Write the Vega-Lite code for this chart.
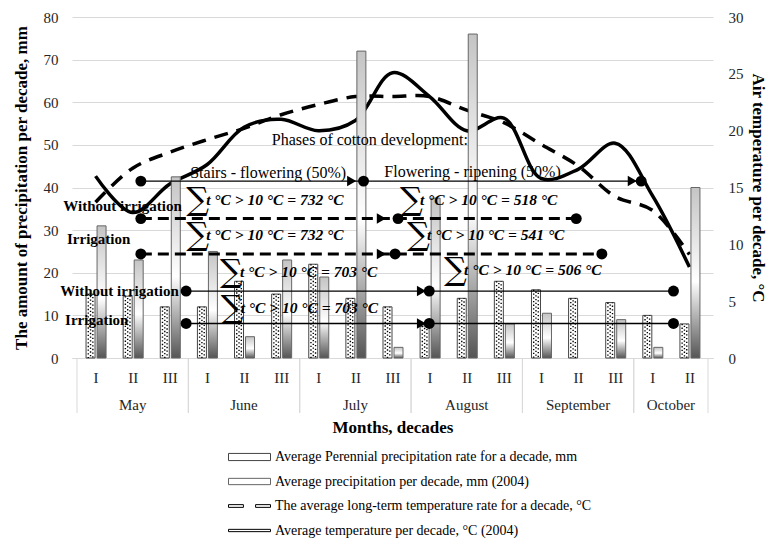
{
  "$schema": "https://vega.github.io/schema/vega-lite/v6.json",
  "width": 641,
  "height": 341,
  "autosize": {"type": "none"},
  "padding": {"left": 72, "top": 17, "right": 54, "bottom": 187},
  "background": "white",
  "config": {
    "view": {"stroke": null},
    "font": "Liberation Serif",
    "axis": {"labelFont": "Liberation Serif", "titleFont": "Liberation Serif", "labelColor": "#262626", "titleColor": "black"},
    "legend": {
      "orient": "none", "legendX": 156, "legendY": 432, "direction": "vertical",
      "labelFont": "Liberation Serif", "labelFontSize": 14, "labelColor": "black", "labelOffset": 4, "labelLimit": 600,
      "symbolSize": 1764, "clipHeight": 16, "rowPadding": 8.5, "padding": 0,
      "symbolType": {"expr": "test(/Perennial/, datum.value) ? 'M-1,-0.17H1V0.17H-1Z' : test(/precipitation/, datum.value) ? 'M-1,-0.15H1V0.15H-1Z' : test(/long-term/, datum.value) ? 'M-1,-0.065H-0.29V0.065H-1Z M0.29,-0.065H1V0.065H0.29Z' : 'M-1,-0.055H1V0.055H-1Z'"},
      "symbolFillColor": {"expr": "test(/Perennial/, datum.value) ? '#c4c4c4' : (test(/precipitation/, datum.value) ? '#e8e8e8' : 'black')"},
      "symbolStrokeColor": {"expr": "test(/precipitation/, datum.value) ? '#555555' : 'black'"},
      "symbolStrokeWidth": 1,
      "symbolOpacity": 1
    }
  },
  "datasets": {
    "decades": [
      {"i": 1, "month": "May", "decade": "I", "perennial": 15, "p2004": 31, "tLong": 13.7, "t2004": 16.0},
      {"i": 2, "month": "May", "decade": "II", "perennial": 14.5, "p2004": 23, "tLong": 16.7, "t2004": 12.8},
      {"i": 3, "month": "May", "decade": "III", "perennial": 12, "p2004": 42.5, "tLong": 18.1, "t2004": 15.3},
      {"i": 4, "month": "June", "decade": "I", "perennial": 12, "p2004": 25, "tLong": 19.2, "t2004": 17.0},
      {"i": 5, "month": "June", "decade": "II", "perennial": 18, "p2004": 5, "tLong": 20.2, "t2004": 20.3},
      {"i": 6, "month": "June", "decade": "III", "perennial": 15, "p2004": 23, "tLong": 21.4, "t2004": 21.0},
      {"i": 7, "month": "July", "decade": "I", "perennial": 22, "p2004": 19, "tLong": 22.3, "t2004": 20.0},
      {"i": 8, "month": "July", "decade": "II", "perennial": 14, "p2004": 72, "tLong": 23.0, "t2004": 20.9},
      {"i": 9, "month": "July", "decade": "III", "perennial": 12, "p2004": 2.5, "tLong": 23.0, "t2004": 25.1},
      {"i": 10, "month": "August", "decade": "I", "perennial": 7.5, "p2004": 37.5, "tLong": 23.0, "t2004": 23.0},
      {"i": 11, "month": "August", "decade": "II", "perennial": 14, "p2004": 76, "tLong": 21.8, "t2004": 20.0},
      {"i": 12, "month": "August", "decade": "III", "perennial": 18, "p2004": 8, "tLong": 20.7, "t2004": 21.1},
      {"i": 13, "month": "September", "decade": "I", "perennial": 16, "p2004": 10.5, "tLong": 18.8, "t2004": 15.8},
      {"i": 14, "month": "September", "decade": "II", "perennial": 14, "p2004": null, "tLong": 16.9, "t2004": 16.6},
      {"i": 15, "month": "September", "decade": "III", "perennial": 13, "p2004": 9, "tLong": 14.2, "t2004": 18.9},
      {"i": 16, "month": "October", "decade": "I", "perennial": 10, "p2004": 2.5, "tLong": 13.0, "t2004": 14.3},
      {"i": 17, "month": "October", "decade": "II", "perennial": 8, "p2004": 40, "tLong": 9.1, "t2004": 8.0}
    ],
    "months": [
      {"month": "May", "first": 0.5, "last": 3.5, "mid": 2},
      {"month": "June", "first": 3.5, "last": 6.5, "mid": 5},
      {"month": "July", "first": 6.5, "last": 9.5, "mid": 8},
      {"month": "August", "first": 9.5, "last": 12.5, "mid": 11},
      {"month": "September", "first": 12.5, "last": 15.5, "mid": 14},
      {"month": "October", "first": 15.5, "last": 17.5, "mid": 16.5}
    ],
    "tracks": [
      {"basis": "phases", "y": 41.5, "start": 2.22, "mid": 8.22, "end": 15.7},
      {"basis": "long-term", "y": 32.7, "start": 2.22, "mid": 9.15, "end": 13.95},
      {"basis": "long-term", "y": 24.4, "start": 2.22, "mid": 9.07, "end": 14.64},
      {"basis": "2004", "y": 15.7, "start": 3.44, "mid": 9.99, "end": 16.57},
      {"basis": "2004", "y": 8.1, "start": 3.44, "mid": 9.99, "end": 16.57}
    ],
    "arrows": [
      {"y": 41.5, "x": 7.9},
      {"y": 41.5, "x": 15.46},
      {"y": 32.7, "x": 8.7},
      {"y": 24.4, "x": 8.7},
      {"y": 15.7, "x": 9.78},
      {"y": 8.1, "x": 9.78}
    ],
    "sums": [
      {"x": 3.44, "y": 37.07, "label": "t °C  > 10 °C = 732 °C"},
      {"x": 3.44, "y": 28.74, "label": "t °C  > 10 °C = 732 °C"},
      {"x": 9.2, "y": 37.07, "label": "t °C  > 10 °C = 518 °C"},
      {"x": 9.39, "y": 28.86, "label": "t °C  > 10 °C = 541 °C"},
      {"x": 4.35, "y": 20.06, "label": "t °C  > 10 °C = 703 °C"},
      {"x": 4.37, "y": 11.73, "label": "t °C  > 10 °C = 703 °C"},
      {"x": 10.39, "y": 20.76, "label": "t °C  > 10 °C = 506 °C"}
    ],
    "notes": [
      {"x": 5.75, "y": 51.14, "text": "Phases of cotton development:"},
      {"x": 3.55, "y": 43.5, "text": "Stairs - flowering (50%)"},
      {"x": 8.78, "y": 43.6, "text": "Flowering - ripening (50%)"}
    ],
    "regimes": [
      {"x": 0.13, "y": 35.66, "text": "Without irrigation"},
      {"x": 0.23, "y": 27.92, "text": "Irrigation"},
      {"x": 0.05, "y": 15.72, "text": "Without irrigation"},
      {"x": 0.18, "y": 8.91, "text": "Irrigation"}
    ]
  },
  "layer": [
    {
      "layer": [
        {
          "data": {"name": "decades"},
          "mark": {"type": "line", "interpolate": "catmull-rom"},
          "encoding": {
            "x": {"field": "i", "type": "quantitative"},
            "y": {"field": "t2004", "type": "quantitative"},
            "strokeWidth": {"value": 3.5},
            "stroke": {"datum": "Average temperature per decade, °C (2004)", "legend": {"title": null}}
          }
        },
        {
          "data": {"name": "decades"},
          "mark": {"type": "line", "interpolate": "catmull-rom", "strokeDash": [14, 9], "strokeWidth": 3.5},
          "encoding": {
            "x": {"field": "i", "type": "quantitative"},
            "y": {
              "field": "tLong", "type": "quantitative",
              "scale": {"domain": [0, 30], "nice": false},
              "axis": {
                "orient": "right", "values": [0, 5, 10, 15, 20, 25, 30],
                "title": "Air temperature per decade, °C", "titleFontSize": 17, "titleFontWeight": "bold", "titlePadding": 5,
                "labelFontSize": 15, "labelPadding": 15, "ticks": false, "domain": false, "grid": false
              }
            },
            "stroke": {"datum": "The average long-term temperature rate for a decade, °C", "legend": {"title": null}}
          }
        }
      ]
    },
    {
      "layer": [
        {
          "data": {"name": "decades"},
          "mark": {"type": "bar", "width": 9, "xOffset": -5, "strokeWidth": 1},
          "encoding": {
            "x": {
              "field": "i", "type": "quantitative",
              "scale": {"domain": [0.5, 17.5], "nice": false, "zero": false},
              "axis": {
                "values": [1, 2, 3, 4, 5, 6, 7, 8, 9, 10, 11, 12, 13, 14, 15, 16, 17],
                "labelExpr": "['I','II','III','I','II','III','I','II','III','I','II','III','I','II','III','I','II'][datum.value-1]",
                "title": "Months, decades", "titleFontSize": 17, "titleFontWeight": "bold", "titlePadding": 34,
                "labelFontSize": 15, "labelPadding": 12, "ticks": false, "tickSize": 0, "grid": false,
                "domainColor": "#d9d9d9", "labelFlush": false, "labelOverlap": false
              }
            },
            "y": {
              "field": "perennial", "type": "quantitative",
              "scale": {"domain": [0, 80], "nice": false},
              "axis": {
                "values": [0, 10, 20, 30, 40, 50, 60, 70, 80],
                "title": "The amount of precipitation per decade, mm", "titleFontSize": 17, "titleFontWeight": "bold", "titlePadding": 13,
                "labelFontSize": 15, "labelPadding": 14, "ticks": false, "domain": false, "grid": true, "gridColor": "#d9d9d9"
              }
            },
            "fill": {"value": "white"},
            "stroke": {
              "datum": "Average Perennial precipitation rate for a decade, mm",
              "scale": {
                "domain": ["Average Perennial precipitation rate for a decade, mm", "Average precipitation per decade, mm (2004)", "The average long-term temperature rate for a decade, °C", "Average temperature per decade, °C (2004)"],
                "range": ["#444444", "#666666", "black", "black"]
              },
              "legend": {"title": null}
            }
          }
        },
        {
          "data": {"name": "decades"},
          "mark": {"type": "rule", "xOffset": -7.3, "strokeDash": [1.3, 2.4], "strokeWidth": 1.4, "color": "black"},
          "encoding": {
            "x": {"field": "i", "type": "quantitative"},
            "y": {"field": "perennial", "type": "quantitative"},
            "y2": {"datum": 0}
          }
        },
        {
          "data": {"name": "decades"},
          "mark": {"type": "rule", "xOffset": -5, "strokeDash": [1.3, 2.4], "strokeDashOffset": 1.9, "strokeWidth": 1.4, "color": "black"},
          "encoding": {
            "x": {"field": "i", "type": "quantitative"},
            "y": {"field": "perennial", "type": "quantitative"},
            "y2": {"datum": 0}
          }
        },
        {
          "data": {"name": "decades"},
          "mark": {"type": "rule", "xOffset": -2.7, "strokeDash": [1.3, 2.4], "strokeDashOffset": 0.7, "strokeWidth": 1.4, "color": "black"},
          "encoding": {
            "x": {"field": "i", "type": "quantitative"},
            "y": {"field": "perennial", "type": "quantitative"},
            "y2": {"datum": 0}
          }
        },
        {
          "data": {"name": "decades"},
          "mark": {"type": "bar", "width": 9, "xOffset": 6, "strokeWidth": 1},
          "encoding": {
            "x": {"field": "i", "type": "quantitative"},
            "y": {"field": "p2004", "type": "quantitative"},
            "fill": {"value": {"gradient": "linear", "x1": 0, "y1": 0, "x2": 0, "y2": 1,
              "stops": [{"offset": 0, "color": "#c4c4c4"}, {"offset": 0.55, "color": "#ffffff"}, {"offset": 1, "color": "#555555"}]}},
            "stroke": {"datum": "Average precipitation per decade, mm (2004)", "legend": {"title": null}}
          }
        },
        {
          "data": {"name": "months"},
          "mark": {"type": "rule", "color": "#d9d9d9", "strokeWidth": 1},
          "encoding": {
            "x": {"field": "first", "type": "quantitative"},
            "y": {"datum": 0},
            "y2": {"datum": -12.9}
          }
        },
        {
          "data": {"name": "months"},
          "mark": {"type": "rule", "color": "#d9d9d9", "strokeWidth": 1},
          "encoding": {
            "x": {"field": "last", "type": "quantitative"},
            "y": {"datum": 0},
            "y2": {"datum": -12.9}
          }
        },
        {
          "data": {"name": "months"},
          "mark": {"type": "text", "align": "center", "baseline": "middle", "font": "Liberation Serif", "fontSize": 15, "color": "#262626"},
          "encoding": {
            "x": {"field": "mid", "type": "quantitative"},
            "y": {"datum": -11.03},
            "text": {"field": "month"}
          }
        },
        {
          "data": {"name": "tracks"},
          "transform": [{"filter": "datum.basis != 'long-term'"}],
          "mark": {"type": "rule", "color": "black", "strokeWidth": 1.4},
          "encoding": {
            "x": {"field": "start", "type": "quantitative"},
            "x2": {"field": "end"},
            "y": {"field": "y", "type": "quantitative"}
          }
        },
        {
          "data": {"name": "tracks"},
          "transform": [{"filter": "datum.basis == 'long-term'"}],
          "mark": {"type": "rule", "color": "black", "strokeWidth": 3, "strokeDash": [11, 6]},
          "encoding": {
            "x": {"field": "start", "type": "quantitative"},
            "x2": {"field": "end"},
            "y": {"field": "y", "type": "quantitative"}
          }
        },
        {
          "data": {"name": "arrows"},
          "mark": {"type": "point", "shape": "triangle-right", "filled": true, "color": "black", "size": 110, "opacity": 1},
          "encoding": {
            "x": {"field": "x", "type": "quantitative"},
            "y": {"field": "y", "type": "quantitative"}
          }
        },
        {
          "data": {"name": "tracks"},
          "mark": {"type": "point", "shape": "circle", "filled": true, "color": "black", "size": 120, "opacity": 1},
          "encoding": {
            "x": {"field": "start", "type": "quantitative"},
            "y": {"field": "y", "type": "quantitative"}
          }
        },
        {
          "data": {"name": "tracks"},
          "mark": {"type": "point", "shape": "circle", "filled": true, "color": "black", "size": 120, "opacity": 1},
          "encoding": {
            "x": {"field": "mid", "type": "quantitative"},
            "y": {"field": "y", "type": "quantitative"}
          }
        },
        {
          "data": {"name": "tracks"},
          "mark": {"type": "point", "shape": "circle", "filled": true, "color": "black", "size": 120, "opacity": 1},
          "encoding": {
            "x": {"field": "end", "type": "quantitative"},
            "y": {"field": "y", "type": "quantitative"}
          }
        },
        {
          "data": {"name": "notes"},
          "mark": {"type": "text", "align": "left", "baseline": "middle", "font": "Liberation Serif", "fontSize": 16, "color": "black"},
          "encoding": {
            "x": {"field": "x", "type": "quantitative"},
            "y": {"field": "y", "type": "quantitative"},
            "text": {"field": "text"}
          }
        },
        {
          "data": {"name": "regimes"},
          "mark": {"type": "text", "align": "left", "baseline": "middle", "font": "Liberation Serif", "fontSize": 15, "fontWeight": "bold", "color": "black"},
          "encoding": {
            "x": {"field": "x", "type": "quantitative"},
            "y": {"field": "y", "type": "quantitative"},
            "text": {"field": "text"}
          }
        },
        {
          "data": {"name": "sums"},
          "mark": {"type": "text", "text": "∑", "align": "left", "baseline": "middle", "font": "DejaVu Serif", "fontSize": 32, "color": "black"},
          "encoding": {
            "x": {"field": "x", "type": "quantitative"},
            "y": {"field": "y", "type": "quantitative"}
          }
        },
        {
          "data": {"name": "sums"},
          "mark": {"type": "text", "align": "left", "baseline": "middle", "dx": 20, "font": "Liberation Serif", "fontStyle": "italic", "fontWeight": "bold", "fontSize": 15.5, "color": "black"},
          "encoding": {
            "x": {"field": "x", "type": "quantitative"},
            "y": {"field": "y", "type": "quantitative"},
            "text": {"field": "label"}
          }
        }
      ]
    }
  ],
  "resolve": {"scale": {"y": "independent"}}
}
